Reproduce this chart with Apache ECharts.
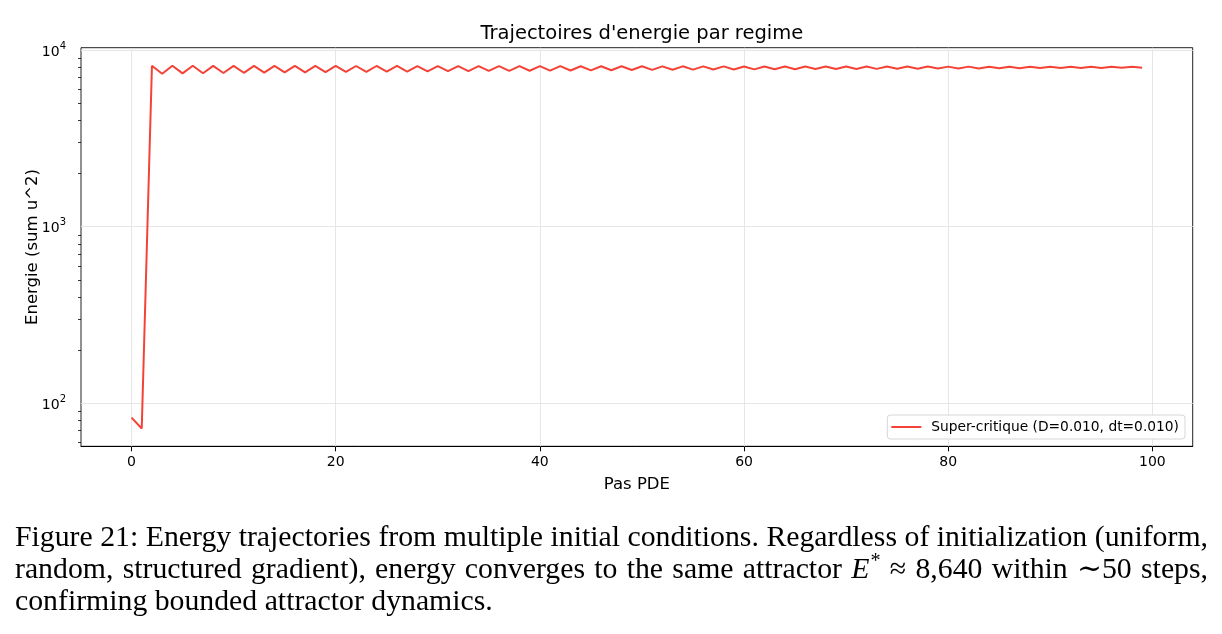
<!DOCTYPE html>
<html>
<head>
<meta charset="utf-8">
<script src="https://cdn.jsdelivr.net/npm/echarts@6/dist/echarts.min.js"></script>
<style>
html,body{margin:0;padding:0;background:#fff;}
#chart{width:1222px;height:634px;}
</style>
</head>
<body>
<div id="chart"></div>
<script>
// ---- data ----
const steps = Array.from({length: 100}, (_, i) => i);
const energy = [
  83, 72, 8150, 7350, 8150, 7380, 8150, 7400, 8145, 7420,
  8145, 7440, 8140, 7460, 8140, 7475, 8140, 7490, 8135, 7505,
  8135, 7520, 8130, 7535, 8130, 7550, 8130, 7565, 8125, 7580,
  8125, 7595, 8120, 7610, 8120, 7620, 8115, 7630, 8115, 7640,
  8110, 7650, 8110, 7665, 8105, 7680, 8105, 7695, 8100, 7710,
  8100, 7725, 8095, 7740, 8095, 7750, 8090, 7760, 8090, 7770,
  8085, 7780, 8085, 7790, 8080, 7800, 8080, 7810, 8078, 7815,
  8075, 7820, 8072, 7830, 8070, 7840, 8068, 7850, 8066, 7860,
  8064, 7870, 8062, 7880, 8060, 7890, 8058, 7900, 8056, 7910,
  8055, 7915, 8054, 7920, 8053, 7930, 8052, 7940, 8051, 7950
];
const xTicks = [0, 20, 40, 60, 80, 100];
const yMajorTicks = [100, 1000, 10000];
const yMajorExp = ['2', '3', '4'];
const yMinorTicks = [60, 70, 80, 90, 200, 300, 400, 500, 600, 700, 800, 900,
                     2000, 3000, 4000, 5000, 6000, 7000, 8000, 9000];
const seriesName = 'Super-critique (D=0.010, dt=0.010)';
const titleText = "Trajectoires d'energie par regime";
const xName = 'Pas PDE';
const yName = 'Energie (sum u^2)';
const captionLines = [
  'Figure 21: Energy trajectories from multiple initial conditions. Regardless of initialization (uniform,',
  'random, structured gradient), energy converges to the same attractor E* \u2248 8,640 within \u223c50 steps,',
  'confirming bounded attractor dynamics.'
];

// ---- layout ----
const gridL = 81, gridR = 1192.7, gridT = 47.7, gridB = 446.3;
const xMin = -4.95, xMax = 103.95;
const yMin = 57.1, yMax = 10320;
const sans = "'DejaVu Sans', sans-serif";
const serif = "'Liberation Serif', 'DejaVu Serif', serif";

const chart = echarts.init(document.getElementById('chart'), null, {renderer: 'canvas'});

// caption layout (justified like the source document)
const mctx = document.createElement('canvas').getContext('2d');
function mw(font, t) { mctx.font = font; return mctx.measureText(t).width; }
const capLeft = 15, capRight = 1208, lastLineRight = 493;
const capSize = 23 * (lastLineRight - capLeft) / mw('23px ' + serif, captionLines[2]);
const capFont = capSize + 'px ' + serif;
const capItFont = 'italic ' + capSize + 'px ' + serif;
const supSize = capSize * 0.68;
const capSupFont = supSize + 'px ' + serif;
const lineCenters = [538, 570, 602];
const graphics = [];
captionLines.forEach((line, li) => {
  const words = line.split(' ');
  const segsPerWord = words.map(w => {
    if (w === 'E*') {
      return [{t: 'E', font: capItFont, dy: 0, pad: 1}, {t: '*', font: capSupFont, dy: -capSize * 0.27, pad: 0}];
    }
    return [{t: w, font: capFont, dy: 0, pad: 0}];
  });
  const widths = segsPerWord.map(segs => segs.reduce((s, g) => s + mw(g.font, g.t) + g.pad, 0));
  const total = widths.reduce((a, b) => a + b, 0);
  const justify = li < captionLines.length - 1;
  const gap = justify ? (capRight - capLeft - total) / (words.length - 1) : mw(capFont, ' ');
  let x = capLeft;
  segsPerWord.forEach((segs, wi) => {
    let sx = x;
    segs.forEach(g => {
      graphics.push({
        type: 'text', x: sx, y: lineCenters[li] + g.dy, silent: true,
        style: {text: g.t, font: g.font, fill: '#000', verticalAlign: 'middle', align: 'left'}
      });
      sx += mw(g.font, g.t) + g.pad;
    });
    x += widths[wi] + gap;
  });
});

const option = {
  animation: false,
  backgroundColor: '#fff',
  title: {
    text: titleText, left: (gridL + gridR) / 2, textAlign: 'center', top: 19,
    textStyle: {fontFamily: sans, fontSize: 19.5, fontWeight: 'normal', color: '#000'}
  },
  grid: {
    left: gridL, top: gridT, width: gridR - gridL, height: gridB - gridT,
    show: true, borderColor: '#222', borderWidth: 1, backgroundColor: 'transparent',
    containLabel: false, outerBoundsMode: 'none'
  },
  legend: {
    data: [seriesName], right: 1222 - 1185, top: 415,
    orient: 'vertical',
    backgroundColor: '#fff', borderColor: '#d6d6d6', borderWidth: 1, borderRadius: 3,
    padding: [4, 6, 4, 4], itemWidth: 30, itemHeight: 2, itemGap: 5,
    icon: 'rect',
    textStyle: {fontFamily: sans, fontSize: 13.8, color: '#000', padding: [0, 0, 0, 5], lineHeight: 16}
  },
  xAxis: {
    type: 'value', min: xMin, max: xMax,
    name: xName, nameLocation: 'middle', nameGap: 30, nameMoveOverlap: false,
    nameTextStyle: {fontFamily: sans, fontSize: 16.5, color: '#000'},
    axisLine: {show: true, onZero: false, lineStyle: {color: '#000', width: 1}},
    axisTick: {show: true, length: 5, lineStyle: {color: '#000'}, customValues: xTicks},
    axisLabel: {show: true, customValues: xTicks, fontFamily: sans, fontSize: 14, color: '#000', margin: 9},
    splitLine: {show: false}
  },
  yAxis: [
    {
      type: 'log', logBase: 10, min: yMin, max: yMax,
      name: yName, nameLocation: 'middle', nameGap: 40, nameMoveOverlap: false,
      nameTextStyle: {fontFamily: sans, fontSize: 16.5, color: '#000'},
      axisLine: {show: true, lineStyle: {color: '#000', width: 1}},
      axisTick: {show: true, length: 5, lineStyle: {color: '#000'}, customValues: yMajorTicks},
      axisLabel: {
        show: true, customValues: yMajorTicks, color: '#000', margin: 15,
        formatter: v => {
          const i = yMajorTicks.findIndex(t => Math.abs(t - v) / t < 1e-6);
          return i >= 0 ? '{b|10}{s|' + yMajorExp[i] + '}' : '';
        },
        rich: {
          b: {fontFamily: sans, fontSize: 14, color: '#000', lineHeight: 18, verticalAlign: 'bottom'},
          s: {fontFamily: sans, fontSize: 10, color: '#000', lineHeight: 18, verticalAlign: 'top', padding: [0, 0, 0, 0]}
        }
      },
      splitLine: {show: false}
    },
    {
      type: 'log', logBase: 10, min: yMin, max: yMax, position: 'left',
      axisLine: {show: false},
      axisTick: {show: true, length: 3, lineStyle: {color: '#000', width: 0.8}, customValues: yMinorTicks},
      axisLabel: {show: false},
      splitLine: {show: false}
    }
  ],
  series: [
    {
      name: seriesName, type: 'line', yAxisIndex: 0,
      data: steps.map((s, i) => [s, energy[i]]),
      showSymbol: false, symbol: 'none',
      lineStyle: {color: '#f44336', width: 2},
      itemStyle: {color: '#f44336'},
      z: 5,
      markLine: {
        silent: true, symbol: 'none', label: {show: false},
        lineStyle: {color: '#e6e6e6', width: 1, type: 'solid'},
        z: 1,
        data: xTicks.map(v => ({xAxis: v})).concat(yMajorTicks.map(v => ({yAxis: v})))
      }
    }
  ],
  graphic: graphics
};
chart.setOption(option);
</script>
</body>
</html>
